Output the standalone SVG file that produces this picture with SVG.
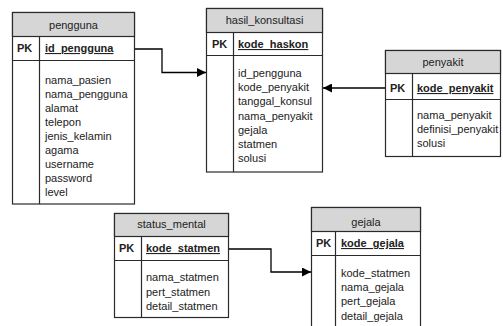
<svg xmlns="http://www.w3.org/2000/svg" width="503" height="326" viewBox="0 0 503 326">
<defs>
<style>
.box{fill:#fff;stroke:#2a2a2a;stroke-width:1.2}
.hdr{fill:#d6d6d6;stroke:#2a2a2a;stroke-width:1.2}
.ln{stroke:#2a2a2a;stroke-width:1.2;fill:none}
text{font-family:"Liberation Sans",Arial,sans-serif;font-size:11px;fill:#222}
.t{text-anchor:middle}
.pk{font-weight:bold}
.key{font-weight:bold;text-decoration:underline}
.con{stroke:#000;stroke-width:1.3;fill:none}
</style>
<marker id="arr" viewBox="0 0 10 10" refX="10" refY="5" markerWidth="9" markerHeight="9" markerUnits="userSpaceOnUse" orient="auto">
<path d="M0,0 L10,5 L0,10 Z" fill="#000"/>
</marker>
</defs>
<rect width="503" height="326" fill="#fff"/>

<g id="pengguna">
<rect class="box" x="12.5" y="12.5" width="122" height="191.5"/>
<rect class="hdr" x="12.5" y="12.5" width="122" height="24"/>
<line class="ln" x1="12.5" y1="60.5" x2="134.5" y2="60.5"/>
<line class="ln" x1="39.5" y1="36.5" x2="39.5" y2="204"/>
<text class="t" x="73.5" y="28.5">pengguna</text>
<text class="pk" x="17" y="52">PK</text>
<text class="key" x="45" y="52">id_pengguna</text>
<text x="45" y="84">nama_pasien</text>
<text x="45" y="98">nama_pengguna</text>
<text x="45" y="112">alamat</text>
<text x="45" y="126">telepon</text>
<text x="45" y="140">jenis_kelamin</text>
<text x="45" y="154">agama</text>
<text x="45" y="168">username</text>
<text x="45" y="182">password</text>
<text x="45" y="196">level</text>
</g>

<g id="hasil_konsultasi">
<rect class="box" x="206.5" y="8.5" width="116" height="163.5"/>
<rect class="hdr" x="206.5" y="8.5" width="116" height="24"/>
<line class="ln" x1="206.5" y1="55.5" x2="322.5" y2="55.5"/>
<line class="ln" x1="233.5" y1="32.5" x2="233.5" y2="172"/>
<text class="t" x="264.5" y="24">hasil_konsultasi</text>
<text class="pk" x="212" y="48">PK</text>
<text class="key" x="238" y="48">kode_haskon</text>
<text x="238" y="77">id_pengguna</text>
<text x="238" y="91.2">kode_penyakit</text>
<text x="238" y="105.4">tanggal_konsul</text>
<text x="238" y="119.6">nama_penyakit</text>
<text x="238" y="133.8">gejala</text>
<text x="238" y="148">statmen</text>
<text x="238" y="162.2">solusi</text>
</g>

<g id="penyakit">
<rect class="box" x="385.5" y="50.5" width="115" height="106"/>
<rect class="hdr" x="385.5" y="50.5" width="115" height="23"/>
<line class="ln" x1="385.5" y1="99.5" x2="500.5" y2="99.5"/>
<line class="ln" x1="412.5" y1="73.5" x2="412.5" y2="156.5"/>
<text class="t" x="443" y="66">penyakit</text>
<text class="pk" x="390" y="92">PK</text>
<text class="key" x="417" y="92">kode_penyakit</text>
<text x="417" y="119">nama_penyakit</text>
<text x="417" y="133">definisi_penyakit</text>
<text x="417" y="147">solusi</text>
</g>

<g id="status_mental">
<rect class="box" x="114.5" y="213.5" width="114" height="104"/>
<rect class="hdr" x="114.5" y="213.5" width="114" height="23"/>
<line class="ln" x1="114.5" y1="260.5" x2="228.5" y2="260.5"/>
<line class="ln" x1="141.5" y1="236.5" x2="141.5" y2="317.5"/>
<text class="t" x="171.5" y="228">status_mental</text>
<text class="pk" x="119" y="252">PK</text>
<text class="key" x="146" y="252">kode_statmen</text>
<text x="146" y="281">nama_statmen</text>
<text x="146" y="295.5">pert_statmen</text>
<text x="146" y="310">detail_statmen</text>
</g>

<g id="gejala">
<rect class="box" x="311.5" y="207.5" width="109" height="135"/>
<rect class="hdr" x="311.5" y="207.5" width="109" height="24"/>
<line class="ln" x1="311.5" y1="255.5" x2="420.5" y2="255.5"/>
<line class="ln" x1="335.5" y1="231.5" x2="335.5" y2="342"/>
<text class="t" x="366" y="226">gejala</text>
<text class="pk" x="316" y="247">PK</text>
<text class="key" x="341" y="247">kode_gejala</text>
<text x="341" y="277">kode_statmen</text>
<text x="341" y="291">nama_gejala</text>
<text x="341" y="305">pert_gejala</text>
<text x="341" y="320">detail_gejala</text>
</g>

<g id="connectors">
<polyline class="con" points="135,49 162,49 162,72.5 206,72.5" marker-end="url(#arr)"/>
<line class="con" x1="385" y1="88" x2="323" y2="88" marker-end="url(#arr)"/>
<polyline class="con" points="229,249 271,249 271,272 311,272" marker-end="url(#arr)"/>
</g>
</svg>
